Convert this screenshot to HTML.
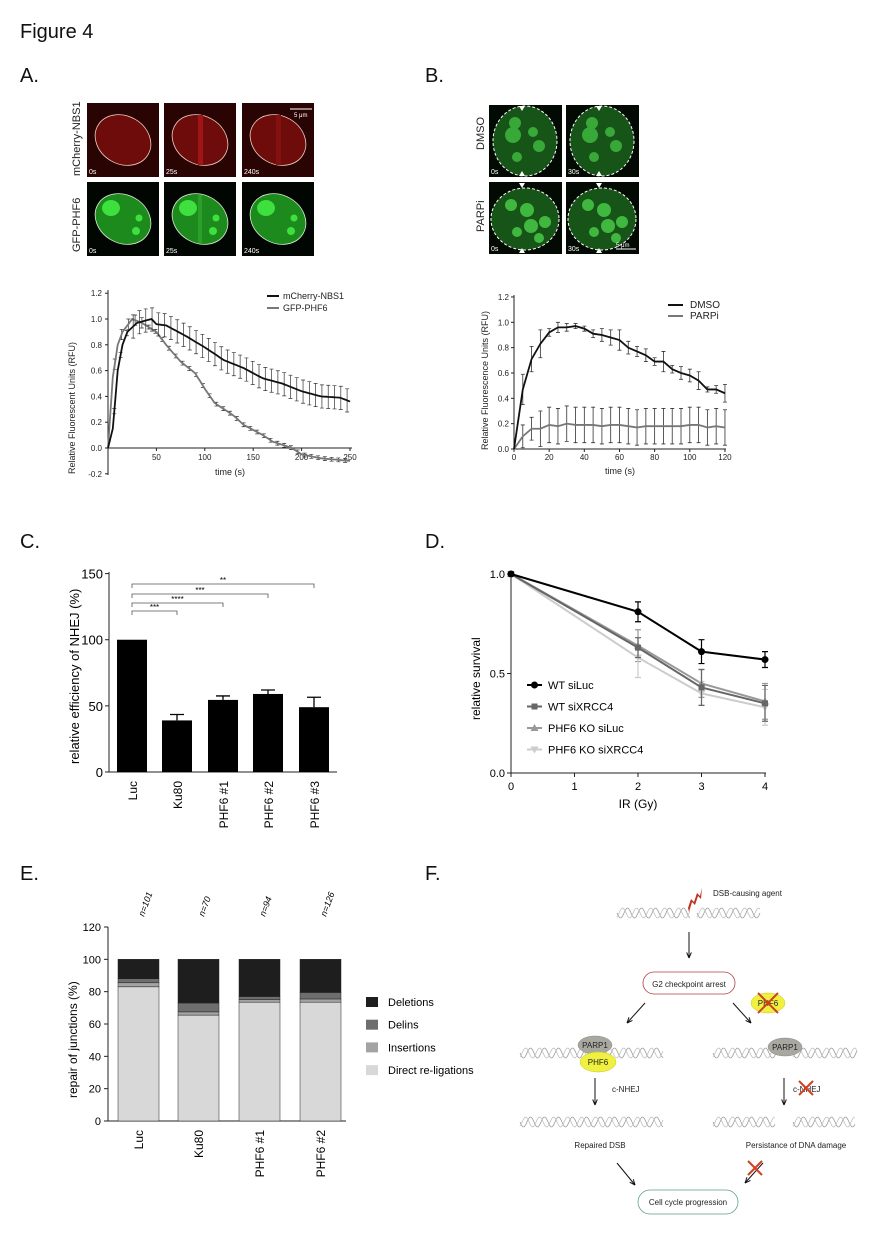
<!DOCTYPE html>
<html><head><meta charset="utf-8"><style>
body{margin:0;background:#fff}
svg{display:block;font-family:"Liberation Sans",sans-serif}
</style></head><body>
<svg id="s" width="877" height="1240" viewBox="0 0 877 1240" xmlns="http://www.w3.org/2000/svg">
<g font-size="20" fill="#111">
<text x="20" y="38">Figure 4</text>
<text x="20" y="82">A.</text><text x="425" y="82">B.</text>
<text x="20" y="548">C.</text><text x="425" y="548">D.</text>
<text x="20" y="880">E.</text><text x="425" y="880">F.</text>
</g>
<g id="aimg"></g>
<g font-size="11" fill="#222">
<text transform="translate(80,176) rotate(-90)">mCherry-NBS1</text>
<text transform="translate(80,252) rotate(-90)">GFP-PHF6</text>
<text transform="translate(484,150) rotate(-90)">DMSO</text>
<text transform="translate(484,232) rotate(-90)">PARPi</text>
</g>
<g id="ga" font-size="8" fill="#222"></g>
<g id="gb" font-size="8" fill="#222"></g>
<g id="gc"></g>
<g id="gd"></g>
<g id="ge"></g>
<g id="gf" font-size="8" fill="#222">
<text x="713" y="896">DSB-causing agent</text>
<rect x="643" y="972" width="92" height="22" rx="11" fill="#fff" stroke="#b04040" stroke-width="0.8"/>
<text x="689" y="987" text-anchor="middle">G2 checkpoint arrest</text>
<text x="612" y="1092">c-NHEJ</text>
<text x="793" y="1092">c-NHEJ</text>
<text x="600" y="1148" text-anchor="middle">Repaired DSB</text>
<text x="796" y="1148" text-anchor="middle">Persistance of DNA damage</text>
<rect x="638" y="1190" width="100" height="24" rx="12" fill="#fff" stroke="#60a080" stroke-width="0.8"/>
<text x="688" y="1205" text-anchor="middle">Cell cycle progression</text>
</g>
</svg>
<script>
const NS="http://www.w3.org/2000/svg";
function el(p,t,a,txt){const e=document.createElementNS(NS,t);for(const k in a)e.setAttribute(k,a[k]);if(txt!==undefined)e.textContent=txt;p.appendChild(e);return e;}

const ai=document.getElementById('aimg');
const ax=[87,164,242], bx=[489,566];
const labA=['0s','25s','240s'], labB=['0s','30s'];
ax.forEach((x,i)=>{
 el(ai,'rect',{x:x,y:103,width:72,height:74,fill:'#2a0303'});
 el(ai,'ellipse',{cx:x+36,cy:140,rx:29,ry:24,fill:'#6e0c0c',stroke:'#e8d0c0','stroke-width':0.8,transform:`rotate(30 ${x+36} 140)`});
 if(i>0) el(ai,'rect',{x:x+34,y:115,width:5,height:50,fill:i==1?'#a01616':'#851010'});
 el(ai,'text',{x:x+2,y:174,'font-size':7,fill:'#fff'},labA[i]);
 el(ai,'rect',{x:x,y:182,width:72,height:74,fill:'#020602'});
 el(ai,'ellipse',{cx:x+36,cy:219,rx:29,ry:24,fill:'#1c8a1c',stroke:'#d8ecd0','stroke-width':0.8,transform:`rotate(30 ${x+36} 219)`});
 el(ai,'ellipse',{cx:x+24,cy:208,rx:9,ry:8,fill:'#3ee03e'});
 el(ai,'circle',{cx:x+52,cy:218,r:3.5,fill:'#3ee03e'});
 el(ai,'circle',{cx:x+49,cy:231,r:4,fill:'#3ee03e'});
 if(i==1) el(ai,'rect',{x:x+34,y:195,width:4,height:48,fill:'#2aa02a'});
 el(ai,'text',{x:x+2,y:253,'font-size':7,fill:'#fff'},labA[i]);
});
el(ai,'line',{x1:290,y1:109,x2:312,y2:109,stroke:'#fff','stroke-width':1});
el(ai,'text',{x:294,y:117,'font-size':6,fill:'#fff'},'5 μm');
bx.forEach((x,i)=>{
 el(ai,'rect',{x:x,y:105,width:73,height:72,fill:'#030a03'});
 el(ai,'ellipse',{cx:x+36,cy:141,rx:32,ry:35,fill:'#175417',stroke:'#fff','stroke-width':1,'stroke-dasharray':'3,2'});
 [[28,123,6],[26,135,8],[46,132,5],[52,146,6],[30,157,5]].forEach(b=>el(ai,'circle',{cx:x+b[0]-2,cy:b[1],r:b[2],fill:'#38a838'}));
 el(ai,'text',{x:x+2,y:174,'font-size':7,fill:'#fff'},labB[i]);
 el(ai,'rect',{x:x,y:182,width:73,height:72,fill:'#030a03'});
 el(ai,'ellipse',{cx:x+36,cy:219,rx:34,ry:31,fill:'#175417',stroke:'#fff','stroke-width':1,'stroke-dasharray':'3,2'});
 [[22,205,6],[38,210,7],[42,226,7],[56,222,6],[28,232,5],[50,238,5]].forEach(b=>el(ai,'circle',{cx:x+b[0],cy:b[1],r:b[2],fill:'#40b840'}));
 el(ai,'text',{x:x+2,y:251,'font-size':7,fill:'#fff'},labB[i]);
 el(ai,'path',{d:`M${x+30} 106l6 0-3 5z M${x+30} 176l6 0-3-5z M${x+30} 183l6 0-3 5z M${x+30} 253l6 0-3-5z`,fill:'#fff'});
});
el(ai,'line',{x1:616,y1:249,x2:636,y2:249,stroke:'#fff','stroke-width':1});
el(ai,'text',{x:616,y:247,'font-size':6,fill:'#fff'},'5 μm');

function interp(pts,t){for(let i=0;i<pts.length-1;i++){if(t>=pts[i][0]&&t<=pts[i+1][0]){const f=(t-pts[i][0])/(pts[i+1][0]-pts[i][0]);return pts[i][1]+f*(pts[i+1][1]-pts[i][1]);}}return pts[pts.length-1][1];}

(function(){
 const g=document.getElementById('ga');
 const X=t=>108+t*0.968, Y=v=>448-v*129;
 el(g,'line',{x1:108,y1:290,x2:108,y2:475,stroke:'#222','stroke-width':1});
 el(g,'line',{x1:108,y1:448,x2:352,y2:448,stroke:'#222','stroke-width':1});
 [-0.2,0,0.2,0.4,0.6,0.8,1.0,1.2].forEach(v=>{el(g,'line',{x1:105,y1:Y(v),x2:108,y2:Y(v),stroke:'#222'});el(g,'text',{x:102,y:Y(v)+3,'text-anchor':'end'},v.toFixed(1));});
 [50,100,150,200,250].forEach(t=>{el(g,'line',{x1:X(t),y1:448,x2:X(t),y2:451,stroke:'#222'});el(g,'text',{x:X(t),y:460,'text-anchor':'middle'},t);});
 el(g,'text',{x:230,y:475,'text-anchor':'middle','font-size':9},'time (s)');
 el(g,'text',{transform:'translate(75,474) rotate(-90)','font-size':9},'Relative Fluorescent Units (RFU)');
 const bk=[[0,0],[5,0.15],[10,0.6],[15,0.8],[20,0.9],[30,0.97],[45,1.0],[50,0.96],[60,0.95],[80,0.87],[100,0.78],[120,0.68],[140,0.62],[160,0.54],[180,0.5],[200,0.44],[220,0.4],[240,0.39],[250,0.36]];
 const gr=[[0,0],[5,0.55],[10,0.8],[15,0.9],[25,1.0],[35,0.97],[50,0.9],[60,0.8],[75,0.67],[90,0.58],[100,0.46],[110,0.35],[130,0.25],[140,0.18],[160,0.1],[170,0.05],[190,0.0],[200,-0.05],[220,-0.08],[250,-0.1]];
 function draw(pts,col,err,step){let d='';for(let t=0;t<=250;t+=2.5){d+=(t?'L':'M')+X(t).toFixed(1)+' '+Y(interp(pts,t)).toFixed(1);}
  for(let t=step;t<=250;t+=step){const v=interp(pts,t),e=err(t);el(g,'path',{d:`M${X(t)} ${Y(v-e)}V${Y(v+e)}M${X(t)-2} ${Y(v-e)}h4M${X(t)-2} ${Y(v+e)}h4`,stroke:'#333','stroke-width':0.7,fill:'none'});}
  el(g,'path',{d:d,stroke:col,'stroke-width':1.8,fill:'none'});}
 draw(gr,'#777',t=>(t<40||t==85)?0.04:0.015,7);
 draw(bk,'#111',t=>t<20?0.02:0.09,6.5);
 el(g,'line',{x1:267,y1:296,x2:279,y2:296,stroke:'#111','stroke-width':2});
 el(g,'line',{x1:267,y1:308,x2:279,y2:308,stroke:'#777','stroke-width':2});
 el(g,'text',{x:283,y:299,'font-size':9},'mCherry-NBS1');
 el(g,'text',{x:283,y:311,'font-size':9},'GFP-PHF6');
})();

(function(){
 const g=document.getElementById('gb');
 const X=t=>514+t*1.758, Y=v=>449-v*126.7;
 el(g,'line',{x1:514,y1:295,x2:514,y2:449,stroke:'#222'});
 el(g,'line',{x1:514,y1:449,x2:726,y2:449,stroke:'#222'});
 [0,0.2,0.4,0.6,0.8,1.0,1.2].forEach(v=>{el(g,'line',{x1:511,y1:Y(v),x2:514,y2:Y(v),stroke:'#222'});el(g,'text',{x:509,y:Y(v)+3,'text-anchor':'end'},v.toFixed(1));});
 [0,20,40,60,80,100,120].forEach(t=>{el(g,'line',{x1:X(t),y1:449,x2:X(t),y2:452,stroke:'#222'});el(g,'text',{x:X(t),y:460,'text-anchor':'middle'},t);});
 el(g,'text',{x:620,y:474,'text-anchor':'middle','font-size':9},'time (s)');
 el(g,'text',{transform:'translate(488,450) rotate(-90)','font-size':9},'Relative Fluorescence Units (RFU)');
 const dm=[0,0.47,0.71,0.83,0.92,0.96,0.96,0.97,0.95,0.91,0.9,0.88,0.86,0.8,0.77,0.74,0.69,0.69,0.63,0.6,0.58,0.54,0.47,0.47,0.44];
 const de=[0,0.12,0.1,0.11,0.03,0.04,0.03,0.02,0.02,0.03,0.05,0.06,0.08,0.05,0.04,0.05,0.03,0.08,0.03,0.05,0.05,0.07,0.02,0.03,0.07];
 const pa=[0,0.1,0.16,0.16,0.19,0.18,0.2,0.19,0.19,0.19,0.18,0.19,0.19,0.18,0.17,0.18,0.18,0.18,0.18,0.18,0.19,0.19,0.17,0.18,0.17];
 function draw(arr,err,col){let d='';arr.forEach((v,i)=>{const t=i*5;d+=(i?'L':'M')+X(t)+' '+Y(v);if(i){const e=err(i);el(g,'path',{d:`M${X(t)} ${Y(v-e)}V${Y(v+e)}M${X(t)-2} ${Y(v-e)}h4M${X(t)-2} ${Y(v+e)}h4`,stroke:'#333','stroke-width':0.8,fill:'none'});}});el(g,'path',{d:d,stroke:col,'stroke-width':1.8,fill:'none'});}
 draw(pa,i=>i<3?0.09:0.14,'#777');
 draw(dm,i=>de[i],'#111');
 el(g,'line',{x1:668,y1:305,x2:683,y2:305,stroke:'#111','stroke-width':2});
 el(g,'line',{x1:668,y1:316,x2:683,y2:316,stroke:'#777','stroke-width':2});
 el(g,'text',{x:690,y:308,'font-size':10},'DMSO');
 el(g,'text',{x:690,y:319,'font-size':10},'PARPi');
})();

(function(){
 const g=document.getElementById('gc');
 const Y=v=>772-v*1.3227;
 el(g,'line',{x1:109,y1:572,x2:109,y2:772,stroke:'#222'});
 el(g,'line',{x1:109,y1:772,x2:337,y2:772,stroke:'#222'});
 [0,50,100,150].forEach(v=>{el(g,'line',{x1:105,y1:Y(v),x2:109,y2:Y(v),stroke:'#222'});el(g,'text',{x:103,y:Y(v)+5,'text-anchor':'end','font-size':13},v);});
 el(g,'text',{transform:'translate(79,764) rotate(-90)','font-size':13},'relative efficiency of NHEJ (%)');
 const bars=[[117,100,0,'Luc'],[162,39,4.5,'Ku80'],[208,54.5,3,'PHF6 #1'],[253,59,3,'PHF6 #2'],[299,49,7.5,'PHF6 #3']];
 bars.forEach(b=>{el(g,'rect',{x:b[0],y:Y(b[1]),width:30,height:772-Y(b[1]),fill:'#000'});
  if(b[2])el(g,'path',{d:`M${b[0]+15} ${Y(b[1])}V${Y(b[1]+b[2])}M${b[0]+8} ${Y(b[1]+b[2])}h14`,stroke:'#000','stroke-width':1.3});
  el(g,'text',{transform:`translate(${b[0]+20},781) rotate(-90)`,'text-anchor':'end','font-size':12},b[3]);});
 const sig=[[162,611,'***'],[208,603,'****'],[253,594,'***'],[299,584,'**']];
 sig.forEach(s=>{el(g,'path',{d:`M132 ${s[1]+4}V${s[1]}H${s[0]+15}V${s[1]+4}`,stroke:'#555','stroke-width':0.8,fill:'none'});el(g,'text',{x:(132+s[0]+15)/2,y:s[1]-1,'text-anchor':'middle','font-size':8},s[2]);});
})();

(function(){
 const g=document.getElementById('gd');
 const X=x=>511+x*63.5, Y=v=>773-v*199;
 el(g,'line',{x1:511,y1:573,x2:511,y2:773,stroke:'#222'});
 el(g,'line',{x1:511,y1:773,x2:766,y2:773,stroke:'#222'});
 [0,0.5,1.0].forEach(v=>{el(g,'line',{x1:507,y1:Y(v),x2:511,y2:Y(v),stroke:'#222'});el(g,'text',{x:505,y:Y(v)+4,'text-anchor':'end','font-size':11},v.toFixed(1));});
 [0,1,2,3,4].forEach(x=>{el(g,'line',{x1:X(x),y1:773,x2:X(x),y2:777,stroke:'#222'});el(g,'text',{x:X(x),y:790,'text-anchor':'middle','font-size':11},x);});
 el(g,'text',{x:638,y:808,'text-anchor':'middle','font-size':12},'IR (Gy)');
 el(g,'text',{transform:'translate(480,720) rotate(-90)','font-size':12},'relative survival');
 const ser=[
  {v:[1,0.64,0.45,0.36],e:[0,0.08,0.07,0.09],c:'#999',m:'tri'},
  {v:[1,0.58,0.4,0.33],e:[0,0.1,0.06,0.09],c:'#ccc',m:'itri'},
  {v:[1,0.63,0.43,0.35],e:[0,0.05,0.09,0.09],c:'#666',m:'sq'},
  {v:[1,0.81,0.61,0.57],e:[0,0.05,0.06,0.04],c:'#000',m:'ci'}];
 function mk(x,y,m,c){if(m=='ci')el(g,'circle',{cx:x,cy:y,r:3.5,fill:c});else if(m=='sq')el(g,'rect',{x:x-3,y:y-3,width:6,height:6,fill:c});else if(m=='tri')el(g,'path',{d:`M${x} ${y-4}l4 7h-8z`,fill:c});else el(g,'path',{d:`M${x} ${y+4}l4 -7h-8z`,fill:c});}
 ser.forEach(s=>{const xs=[0,2,3,4];let d='';s.v.forEach((v,i)=>{d+=(i?'L':'M')+X(xs[i])+' '+Y(v);const e=s.e[i];if(e)el(g,'path',{d:`M${X(xs[i])} ${Y(v-e)}V${Y(v+e)}M${X(xs[i])-3} ${Y(v-e)}h6M${X(xs[i])-3} ${Y(v+e)}h6`,stroke:s.c,'stroke-width':1.2,fill:'none'});});
  el(g,'path',{d:d,stroke:s.c,'stroke-width':2,fill:'none'});s.v.forEach((v,i)=>mk(X(xs[i]),Y(v),s.m,s.c));});
 const lg=[['WT siLuc','#000','ci'],['WT siXRCC4','#666','sq'],['PHF6 KO siLuc','#999','tri'],['PHF6 KO siXRCC4','#ccc','itri']];
 lg.forEach((l,i)=>{const y=685+i*21.5;el(g,'line',{x1:527,y1:y,x2:542,y2:y,stroke:l[1],'stroke-width':2});mk(534.5,y,l[2],l[1]);el(g,'text',{x:548,y:y+4,'font-size':11},l[0]);});
})();

(function(){
 const g=document.getElementById('ge');
 const Y=v=>1121-v*1.6167;
 el(g,'line',{x1:108,y1:927,x2:108,y2:1121,stroke:'#222'});
 el(g,'line',{x1:108,y1:1121,x2:346,y2:1121,stroke:'#222'});
 [0,20,40,60,80,100,120].forEach(v=>{el(g,'line',{x1:104,y1:Y(v),x2:108,y2:Y(v),stroke:'#222'});el(g,'text',{x:101,y:Y(v)+4,'text-anchor':'end','font-size':11},v);});
 el(g,'text',{transform:'translate(77,1098) rotate(-90)','font-size':12},'repair of junctions (%)');
 const cols=['#d8d8d8','#a3a3a3','#6e6e6e','#1e1e1e'];
 const bars=[[118,[83,2.5,2.5,12],'Luc','n=101'],[178,[65.5,2,5.5,27],'Ku80','n=70'],[239,[73.5,1.5,2,23],'PHF6 #1','n=94'],[300,[73.5,2,4,20.5],'PHF6 #2','n=126']];
 bars.forEach(b=>{let c=0;b[1].forEach((v,i)=>{el(g,'rect',{x:b[0],y:Y(c+v),width:41,height:v*1.6167,fill:cols[i],stroke:'#222','stroke-width':0.5});c+=v;});
  el(g,'text',{transform:`translate(${b[0]+25},1130) rotate(-90)`,'text-anchor':'end','font-size':12},b[2]);
  el(g,'text',{transform:`translate(${b[0]+26},917) rotate(-70)`,'font-size':9,'font-style':'italic'},b[3]);});
 const lg=['Deletions','Delins','Insertions','Direct re-ligations'];
 lg.forEach((l,i)=>{const y=997+i*22.7;el(g,'rect',{x:366,y:y,width:12,height:10,fill:cols[3-i]});el(g,'text',{x:388,y:y+9,'font-size':11},l);});
})();

(function(){
 const g=document.getElementById('gf');
 function dna(x1,x2,y){let a='',b='';for(let x=x1;x<=x2;x+=1){const p=(x-x1)/14*2*Math.PI;a+=(x==x1?'M':'L')+x+' '+(y+5*Math.sin(p)).toFixed(1);b+=(x==x1?'M':'L')+x+' '+(y+5*Math.sin(p+2.2)).toFixed(1);}
  el(g,'path',{d:a,stroke:'#9a9a9a','stroke-width':0.8,fill:'none'});el(g,'path',{d:b,stroke:'#c0c0c0','stroke-width':0.8,fill:'none'});}
 dna(617,690,913);dna(697,760,913);
 dna(520,663,1053);dna(713,777,1053);dna(793,857,1053);
 dna(520,663,1122);dna(713,775,1122);dna(793,855,1122);
 el(g,'path',{d:'M688 908l3-9 3 3 3-9 3 3 2-8-1 11-3-3-3 9-3-3-3 10z',fill:'#c03020'});
 function arr(x1,y1,x2,y2){el(g,'line',{x1:x1,y1:y1,x2:x2,y2:y2,stroke:'#111','stroke-width':1});const a=Math.atan2(y2-y1,x2-x1);const L=6;
  el(g,'path',{d:`M${x2} ${y2}L${x2-L*Math.cos(a-0.4)} ${y2-L*Math.sin(a-0.4)}M${x2} ${y2}L${x2-L*Math.cos(a+0.4)} ${y2-L*Math.sin(a+0.4)}`,stroke:'#111','stroke-width':1,fill:'none'});}
 arr(689,932,689,958);arr(645,1003,627,1023);arr(733,1003,751,1023);
 arr(595,1078,595,1105);arr(784,1078,784,1105);arr(617,1163,635,1185);arr(763,1163,745,1183);
 el(g,'ellipse',{cx:768,cy:1003,rx:17,ry:10,fill:'#f0f040',stroke:'#c8c820','stroke-width':0.5});
 el(g,'text',{x:768,y:1006,'text-anchor':'middle'},'PHF6');
 function X(cx,cy,r){el(g,'path',{d:`M${cx-r} ${cy-r}L${cx+r} ${cy+r}M${cx+r} ${cy-r}L${cx-r} ${cy+r}`,stroke:'#d04020','stroke-width':2});}
 X(768,1003,10);
 el(g,'ellipse',{cx:595,cy:1045,rx:17,ry:9,fill:'#a8a8a0',stroke:'#888','stroke-width':0.5});
 el(g,'ellipse',{cx:598,cy:1062,rx:18,ry:10,fill:'#f0f040',stroke:'#c8c820','stroke-width':0.5});
 el(g,'text',{x:595,y:1048,'text-anchor':'middle'},'PARP1');
 el(g,'text',{x:598,y:1065,'text-anchor':'middle'},'PHF6');
 el(g,'ellipse',{cx:785,cy:1047,rx:17,ry:9,fill:'#a8a8a0',stroke:'#888','stroke-width':0.5});
 el(g,'text',{x:785,y:1050,'text-anchor':'middle'},'PARP1');
 X(806,1088,7);X(755,1168,7);
})();
</script>
</body></html>
